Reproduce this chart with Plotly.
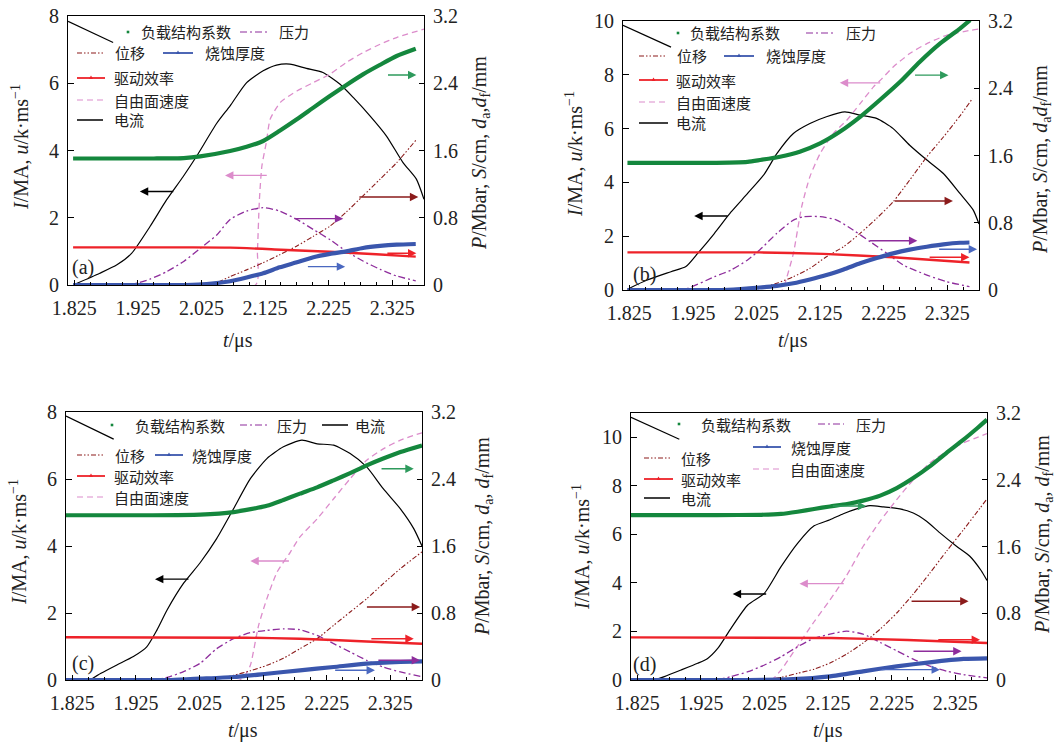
import plotly.graph_objects as go

W, H = 1062, 742
FONT = "Liberation Serif"
CJK = "Noto Sans CJK SC"

# ===================== DATA =====================
# t in microseconds; left axis: I/MA, u/k·ms^-1 ; right axis: P/Mbar, S/cm, d/mm
# ---- panel (a) ----
A_CUR_T = [1.823, 1.865, 1.892, 1.915, 1.944, 1.970, 1.996, 2.017, 2.049, 2.070, 2.096, 2.122, 2.143, 2.164, 2.190, 2.216, 2.243, 2.264, 2.290, 2.316, 2.342, 2.363, 2.375]
A_CUR = [0.0, 0.35, 0.60, 0.94, 1.74, 2.53, 3.22, 3.82, 4.81, 5.33, 6.02, 6.37, 6.54, 6.57, 6.44, 6.32, 5.97, 5.57, 5.03, 4.43, 3.64, 3.15, 2.55]
A_SEG_T = [1.815, 1.886]
A_SEG = [7.84, 7.21]
A_FSV_T = [1.823, 2.110, 2.113, 2.116, 2.120, 2.127, 2.133, 2.149, 2.175, 2.201, 2.227, 2.253, 2.279, 2.306, 2.332, 2.375]
A_FSV = [0, 0, 1.0, 2.5, 3.54, 4.24, 4.93, 5.43, 5.77, 6.02, 6.27, 6.62, 6.91, 7.16, 7.36, 7.61]
A_GRN_T = [1.823, 1.950, 1.997, 2.023, 2.070, 2.096, 2.122, 2.148, 2.175, 2.201, 2.227, 2.253, 2.279, 2.306, 2.332, 2.362]
A_GRN = [1.505, 1.505, 1.51, 1.53, 1.594, 1.645, 1.713, 1.835, 1.971, 2.11, 2.248, 2.38, 2.506, 2.62, 2.724, 2.81]
A_PRS_T = [1.905, 1.918, 1.944, 1.970, 1.997, 2.023, 2.049, 2.070, 2.096, 2.122, 2.148, 2.175, 2.201, 2.227, 2.253, 2.279, 2.306, 2.332, 2.362]
A_PRS = [0, 0.01, 0.07, 0.158, 0.28, 0.436, 0.595, 0.78, 0.88, 0.92, 0.88, 0.78, 0.66, 0.54, 0.40, 0.285, 0.186, 0.107, 0.05]
A_DSP_T = [2.030, 2.049, 2.070, 2.096, 2.122, 2.148, 2.175, 2.201, 2.227, 2.253, 2.279, 2.306, 2.332, 2.362]
A_DSP = [0, 0.03, 0.10, 0.18, 0.265, 0.36, 0.464, 0.58, 0.70, 0.87, 1.06, 1.26, 1.455, 1.72]
A_ABL_T = [1.823, 2.000, 2.020, 2.045, 2.070, 2.096, 2.122, 2.148, 2.175, 2.201, 2.227, 2.253, 2.279, 2.306, 2.332, 2.362]
A_ABL = [0, 0, 0.005, 0.02, 0.045, 0.09, 0.14, 0.21, 0.27, 0.33, 0.37, 0.40, 0.44, 0.465, 0.48, 0.488]
A_EFF_T = [1.823, 2.000, 2.070, 2.150, 2.227, 2.300, 2.362]
A_EFF = [0.448, 0.448, 0.445, 0.42, 0.395, 0.365, 0.337]

# ---- panel (b) ----
B_CUR_T = [1.822, 1.853, 1.8905, 1.914, 1.9325, 1.9586, 1.985, 2.011, 2.037, 2.057, 2.083, 2.109, 2.135, 2.164, 2.188, 2.214, 2.240, 2.266, 2.293, 2.319, 2.345, 2.366, 2.375]
B_CUR = [0.03, 0.37, 0.68, 0.87, 1.36, 2.10, 2.9, 3.59, 4.3, 5.07, 5.82, 6.19, 6.44, 6.62, 6.50, 6.38, 6.0, 5.38, 4.83, 4.33, 3.59, 2.97, 2.45]
B_SEG_T = [1.815, 1.8905]
B_SEG = [9.84, 9.03]
B_FSV_T = [1.822, 2.066, 2.070, 2.083, 2.096, 2.109, 2.125, 2.146, 2.167, 2.188, 2.209, 2.222, 2.240, 2.266, 2.293, 2.324, 2.361, 2.375]
B_FSV = [0, 0, 0.26, 1.36, 3.09, 4.21, 5.07, 5.82, 6.31, 6.93, 7.55, 7.85, 8.29, 8.79, 9.16, 9.47, 9.65, 9.70]
B_GRN_T = [1.822, 1.950, 2.011, 2.0305, 2.062, 2.093, 2.125, 2.156, 2.188, 2.219, 2.251, 2.282, 2.314, 2.345, 2.361]
B_GRN = [1.513, 1.513, 1.525, 1.546, 1.585, 1.645, 1.744, 1.882, 2.06, 2.26, 2.477, 2.715, 2.933, 3.11, 3.21]
B_PRS_T = [1.900, 1.917, 1.959, 1.985, 2.011, 2.030, 2.057, 2.083, 2.099, 2.125, 2.151, 2.177, 2.204, 2.230, 2.256, 2.293, 2.324, 2.360]
B_PRS = [0, 0.02, 0.158, 0.238, 0.357, 0.476, 0.674, 0.832, 0.872, 0.872, 0.832, 0.713, 0.574, 0.436, 0.297, 0.178, 0.099, 0.04]
B_DSP_T = [2.010, 2.030, 2.057, 2.083, 2.109, 2.135, 2.162, 2.188, 2.214, 2.240, 2.266, 2.293, 2.319, 2.345, 2.365]
B_DSP = [0, 0.02, 0.08, 0.158, 0.258, 0.396, 0.515, 0.674, 0.852, 1.05, 1.308, 1.585, 1.82, 2.07, 2.28]
B_ABL_T = [1.822, 1.980, 2.030, 2.057, 2.083, 2.109, 2.135, 2.162, 2.188, 2.214, 2.240, 2.266, 2.293, 2.319, 2.345, 2.360]
B_ABL = [0, 0.003, 0.03, 0.05, 0.08, 0.125, 0.178, 0.245, 0.317, 0.38, 0.436, 0.48, 0.515, 0.543, 0.562, 0.565]
B_EFF_T = [1.822, 2.030, 2.130, 2.240, 2.360]
B_EFF = [0.448, 0.447, 0.43, 0.389, 0.328]

# ---- panel (c) ----
C_CUR_T = [1.853, 1.870, 1.895, 1.921, 1.942, 1.958, 1.974, 2.000, 2.026, 2.052, 2.0785, 2.105, 2.131, 2.157, 2.186, 2.210, 2.236, 2.262, 2.288, 2.314, 2.341, 2.362, 2.375]
C_CUR = [0, 0.2, 0.45, 0.70, 0.99, 1.49, 2.09, 2.89, 3.5, 4.22, 5.11, 6.01, 6.61, 6.96, 7.16, 7.05, 7.01, 6.76, 6.36, 5.71, 5.11, 4.52, 4.0]
C_SEG_T = [1.815, 1.890]
C_SEG = [7.88, 7.19]
C_FSV_T = [1.815, 2.088, 2.097, 2.105, 2.118, 2.131, 2.147, 2.168, 2.183, 2.210, 2.236, 2.262, 2.288, 2.314, 2.341, 2.375]
C_FSV = [0, 0, 0.15, 0.44, 1.63, 2.43, 3.22, 3.82, 4.27, 4.81, 5.41, 6.01, 6.56, 6.90, 7.16, 7.38]
C_GRN_T = [1.815, 1.950, 2.026, 2.0785, 2.131, 2.157, 2.183, 2.210, 2.236, 2.262, 2.288, 2.314, 2.341, 2.375]
C_GRN = [1.967, 1.967, 1.975, 2.005, 2.08, 2.15, 2.225, 2.30, 2.384, 2.47, 2.563, 2.645, 2.722, 2.80]
C_PRS_T = [1.948, 1.974, 2.000, 2.026, 2.052, 2.0785, 2.105, 2.131, 2.157, 2.183, 2.210, 2.236, 2.262, 2.288, 2.314, 2.341, 2.375]
C_PRS = [0, 0.03, 0.10, 0.20, 0.374, 0.493, 0.565, 0.593, 0.61, 0.60, 0.533, 0.434, 0.334, 0.235, 0.155, 0.096, 0.04]
C_DSP_T = [2.045, 2.0785, 2.105, 2.131, 2.157, 2.183, 2.210, 2.236, 2.262, 2.288, 2.314, 2.341, 2.375]
C_DSP = [0, 0.056, 0.11, 0.175, 0.26, 0.374, 0.493, 0.653, 0.812, 0.971, 1.15, 1.33, 1.53]
C_ABL_T = [1.815, 1.980, 2.026, 2.0785, 2.131, 2.183, 2.236, 2.288, 2.341, 2.375]
C_ABL = [0, 0, 0.016, 0.036, 0.075, 0.116, 0.155, 0.195, 0.215, 0.223]
C_EFF_T = [1.815, 2.100, 2.183, 2.288, 2.375]
C_EFF = [0.51, 0.505, 0.493, 0.46, 0.433]

# ---- panel (d) ----
D_CUR_T = [1.8517, 1.8674, 1.8937, 1.9199, 1.9356, 1.9514, 1.9723, 1.9986, 2.0247, 2.051, 2.077, 2.103, 2.128, 2.149, 2.170, 2.191, 2.212, 2.238, 2.259, 2.280, 2.301, 2.327, 2.348, 2.366, 2.375]
D_CUR = [0, 0.14, 0.41, 0.69, 0.89, 1.30, 2.13, 3.09, 3.57, 4.67, 5.63, 6.35, 6.6, 6.85, 7.05, 7.18, 7.13, 7.05, 6.88, 6.54, 6.06, 5.51, 5.10, 4.5, 4.1]
D_SEG_T = [1.815, 1.891]
D_SEG = [10.82, 9.92]
D_FSV_T = [1.815, 2.035, 2.051, 2.077, 2.103, 2.128, 2.154, 2.180, 2.207, 2.233, 2.259, 2.285, 2.312, 2.338, 2.360, 2.375]
D_FSV = [0, 0, 0.41, 1.4, 2.4, 3.3, 4.3, 5.5, 6.55, 7.43, 8.25, 8.94, 9.42, 9.77, 10.0, 10.15]
D_GRN_T = [1.815, 1.950, 2.020, 2.051, 2.077, 2.103, 2.128, 2.155, 2.180, 2.207, 2.233, 2.259, 2.285, 2.311, 2.338, 2.360, 2.375]
D_GRN = [1.977, 1.977, 1.98, 1.99, 2.017, 2.05, 2.08, 2.11, 2.15, 2.21, 2.30, 2.42, 2.56, 2.72, 2.88, 3.02, 3.12]
D_PRS_T = [1.951, 1.972, 1.999, 2.025, 2.051, 2.077, 2.103, 2.128, 2.154, 2.180, 2.207, 2.233, 2.259, 2.285, 2.312, 2.338, 2.375]
D_PRS = [0, 0.04, 0.10, 0.18, 0.279, 0.399, 0.50, 0.55, 0.585, 0.55, 0.45, 0.35, 0.25, 0.165, 0.105, 0.065, 0.025]
D_DSP_T = [2.020, 2.050, 2.077, 2.103, 2.128, 2.154, 2.180, 2.207, 2.233, 2.259, 2.285, 2.312, 2.338, 2.364, 2.375]
D_DSP = [0, 0.03, 0.08, 0.13, 0.204, 0.31, 0.443, 0.61, 0.803, 1.03, 1.28, 1.55, 1.80, 2.06, 2.17]
D_ABL_T = [1.815, 2.000, 2.070, 2.128, 2.180, 2.233, 2.285, 2.338, 2.375]
D_ABL = [0, 0, 0.01, 0.044, 0.104, 0.164, 0.212, 0.252, 0.26]
D_EFF_T = [1.815, 2.130, 2.250, 2.375]
D_EFF = [0.511, 0.503, 0.48, 0.443]

# arrows: (series, tail t, head t, value)
A_ARROWS = [("green", 2.316, 2.363, 2.498), ("black", 1.983, 1.928, 2.78), ("pink", 2.130, 2.062, 3.26),
            ("purple", 2.169, 2.248, 0.789), ("darkred", 2.271, 2.366, 1.047), ("blue", 2.190, 2.251, 0.218),
            ("red", 2.315, 2.363, 0.377)]
B_ARROWS = [("green", 2.272, 2.327, 2.556), ("pink", 2.222, 2.156, 7.70), ("black", 1.982, 1.927, 2.75),
            ("darkred", 2.240, 2.334, 1.058), ("purple", 2.201, 2.278, 0.586), ("blue", 2.310, 2.372, 0.484),
            ("red", 2.295, 2.360, 0.389)]
C_ARROWS = [("green", 2.309, 2.362, 2.523), ("pink", 2.168, 2.105, 3.55), ("black", 2.010, 1.955, 3.01),
            ("darkred", 2.286, 2.372, 0.872), ("red", 2.293, 2.362, 0.493), ("purple", 2.304, 2.372, 0.235),
            ("blue", 2.236, 2.301, 0.116)]
D_ARROWS = [("green", 2.130, 2.185, 2.085), ("pink", 2.152, 2.080, 3.97), ("black", 2.030, 1.975, 3.54),
            ("darkred", 2.254, 2.346, 0.943), ("red", 2.296, 2.364, 0.483), ("purple", 2.257, 2.335, 0.344),
            ("blue", 2.207, 2.301, 0.124)]

NAMES = {"green": "负载结构系数", "purple": "压力", "darkred": "位移", "blue": "烧蚀厚度",
         "red": "驱动效率", "pink": "自由面速度", "black": "电流"}

X_TICK0, X_DTICK = 1.825, 0.1
RIGHT_TICKS = [0, 0.8, 1.6, 2.4, 3.2]
RIGHT_TICKTEXT = ["0", "0.8", "1.6", "2.4", "3.2"]

# ===================== STYLE / LAYOUT =====================
STY = {
    "green": dict(color="#14873d", width=4.2, dash="solid"),
    "blue": dict(color="#3a56ad", width=4.2, dash="solid"),
    "red": dict(color="#ee2229", width=2.4, dash="solid"),
    "pink": dict(color="#dc8ccb", width=1.3, dash="6px,4px"),
    "purple": dict(color="#8e2d9c", width=1.3, dash="7px,3px,2px,3px"),
    "darkred": dict(color="#8b1b1b", width=1.1, dash="5px,2px,1.5px,2px,1.5px,2px"),
    "black": dict(color="#000000", width=1.2, dash="solid"),
}
ARROW_COL = {"green": "#2e9a5c", "blue": "#4a68c0", "red": "#ee2229", "pink": "#dc8ccb",
             "purple": "#8e2d9c", "darkred": "#8b1b1b", "black": "#000000"}
LEFT_SERIES = {"black", "pink"}

PANELS = [
    dict(label="(a)", box=(68, 424, 16, 285), ymax=8,
         series=[("black", A_CUR_T, A_CUR), ("black", A_SEG_T, A_SEG), ("pink", A_FSV_T, A_FSV),
                 ("purple", A_PRS_T, A_PRS), ("darkred", A_DSP_T, A_DSP), ("red", A_EFF_T, A_EFF),
                 ("blue", A_ABL_T, A_ABL), ("green", A_GRN_T, A_GRN)],
         arrows=A_ARROWS, lab_xy=(83, 267),
         ltitle=(20, 147), rtitle=(480, 153), btitle=(238, 340),
         rtext="<i>P</i>/Mbar, <i>S</i>/cm, <i>d</i><sub>a</sub>,<i>d</i><sub>f</sub>/mm",
         legend=[("green", None, 128, 32, 139), ("purple", (240, 268), None, 32, 277),
                 ("darkred", (77, 103), None, 53, 113), ("blue", (163, 193), None, 53, 203),
                 ("red", (77, 105), None, 78, 112), ("pink", (77, 103), None, 100, 112),
                 ("black", (77, 103), None, 120, 112)]),
    dict(label="(b)", box=(623, 979, 21, 290), ymax=10,
         series=[("black", B_CUR_T, B_CUR), ("black", B_SEG_T, B_SEG), ("pink", B_FSV_T, B_FSV),
                 ("purple", B_PRS_T, B_PRS), ("darkred", B_DSP_T, B_DSP), ("red", B_EFF_T, B_EFF),
                 ("blue", B_ABL_T, B_ABL), ("green", B_GRN_T, B_GRN)],
         arrows=B_ARROWS, lab_xy=(644, 274),
         ltitle=(574, 154), rtitle=(1041, 160), btitle=(793, 340),
         rtext="<i>P</i>/Mbar, <i>S</i>/cm, <i>d</i><sub>a</sub><i>d</i><sub>f</sub>/mm",
         legend=[("green", None, 678, 33, 688), ("purple", (806, 833), None, 33, 844),
                 ("darkred", (639, 666), None, 56, 675), ("blue", (724, 754), None, 56, 764),
                 ("red", (639, 668), None, 80, 674), ("pink", (639, 668), None, 102, 674),
                 ("black", (639, 668), None, 123, 674)]),
    dict(label="(c)", box=(66, 422, 412, 680), ymax=8,
         series=[("black", C_CUR_T, C_CUR), ("black", C_SEG_T, C_SEG), ("pink", C_FSV_T, C_FSV),
                 ("purple", C_PRS_T, C_PRS), ("darkred", C_DSP_T, C_DSP), ("red", C_EFF_T, C_EFF),
                 ("blue", C_ABL_T, C_ABL), ("green", C_GRN_T, C_GRN)],
         arrows=C_ARROWS, lab_xy=(83, 663),
         ltitle=(18, 542), rtitle=(483, 536), btitle=(243, 730),
         rtext="<i>P</i>/Mbar, <i>S</i>/cm, <i>d</i><sub>a</sub>, <i>d</i><sub>f</sub>/mm",
         legend=[("green", None, 112, 425, 133), ("purple", (240, 267), None, 425, 275),
                 ("black", (322, 348), None, 425, 353),
                 ("darkred", (77, 103), None, 455, 113), ("blue", (155, 183), None, 455, 190),
                 ("red", (77, 105), None, 476, 112), ("pink", (77, 105), None, 497, 112)]),
    dict(label="(d)", box=(631, 987, 413, 680), ymax=11,
         series=[("black", D_CUR_T, D_CUR), ("black", D_SEG_T, D_SEG), ("pink", D_FSV_T, D_FSV),
                 ("purple", D_PRS_T, D_PRS), ("darkred", D_DSP_T, D_DSP), ("red", D_EFF_T, D_EFF),
                 ("blue", D_ABL_T, D_ABL), ("green", D_GRN_T, D_GRN)],
         arrows=D_ARROWS, lab_xy=(644, 664),
         ltitle=(581, 547), rtitle=(1043, 535), btitle=(828, 730),
         rtext="<i>P</i>/Mbar, <i>S</i>/cm, <i>d</i><sub>a</sub>, <i>d</i><sub>f</sub>/mm",
         legend=[("green", None, 679, 424, 699), ("purple", (818, 844), None, 424, 854),
                 ("blue", (753, 781), None, 447, 789), ("darkred", (644, 670), None, 458, 679),
                 ("pink", (753, 781), None, 469, 788), ("red", (644, 673), None, 479, 679),
                 ("black", (644, 670), None, 498, 679)]),
]


def px(x):
    return x / W


def py(y):
    return 1 - y / H


fig = go.Figure()
layout = dict(template="none", width=W, height=H, margin=dict(l=0, r=0, t=0, b=0, pad=0),
              paper_bgcolor="white", plot_bgcolor="white", showlegend=False,
              font=dict(family=FONT, size=19, color="#222222"))
annotations = []
shapes = []
TICKFONT = dict(family=FONT, size=20, color="#222222")
TITLEFONT = dict(family=FONT, size=20, color="#222222")

for i, P in enumerate(PANELS):
    p = i + 1
    xr = "x" if p == 1 else f"x{p}"
    L, R = 2 * p - 1, 2 * p
    yl = "y" if L == 1 else f"y{L}"
    yr = f"y{R}"
    x0, x1, y0, y1 = P["box"]
    dom_x = [px(x0), px(x1)]
    dom_y = [py(y1), py(y0)]
    layout["xaxis" if p == 1 else f"xaxis{p}"] = dict(
        domain=dom_x, anchor=yl, range=[1.815, 2.375], tickmode="linear", tick0=X_TICK0, dtick=X_DTICK,
        tickformat=".3f", ticks="inside", ticklen=5, tickcolor="black", showline=True, mirror=True,
        linecolor="black", linewidth=1.2, showgrid=False, zeroline=False, tickfont=TICKFONT,
        ticklabelstandoff=5, automargin=False,
        minor=dict(ticks="inside", ticklen=3, dtick=0.025, tick0=X_TICK0, tickcolor="black", showgrid=False))
    layout["yaxis" if L == 1 else f"yaxis{L}"] = dict(
        domain=dom_y, anchor=xr, range=[0, P["ymax"]], tickmode="linear", tick0=0, dtick=2,
        ticks="inside", ticklen=6, tickcolor="black", showline=True, linecolor="black", linewidth=1.2,
        showgrid=False, zeroline=False, tickfont=TICKFONT, ticklabelstandoff=4, automargin=False)
    layout[f"yaxis{R}"] = dict(
        domain=dom_y, anchor=xr, overlaying=yl, side="right", range=[0, 3.2], tickmode="array",
        tickvals=RIGHT_TICKS, ticktext=RIGHT_TICKTEXT, ticks="inside", ticklen=5, tickcolor="black",
        showline=True, linecolor="black", linewidth=1.2, showgrid=False, zeroline=False,
        tickfont=TICKFONT, ticklabelstandoff=4, automargin=False)

    for key, t, v in P["series"]:
        s = STY[key]
        fig.add_trace(go.Scatter(
            x=t, y=v, mode="lines", xaxis=xr, yaxis=yl if key in LEFT_SERIES else yr,
            line=dict(color=s["color"], width=s["width"], dash=s["dash"], shape="spline", smoothing=0.6),
            name=NAMES[key], hoverinfo="skip"))

    for key, t0, t1, val in P["arrows"]:
        yy = yl if key in LEFT_SERIES else yr
        annotations.append(dict(x=t1, y=val, ax=t0, ay=val, xref=xr, yref=yy, axref=xr, ayref=yy,
                                text="", showarrow=True, arrowhead=2, arrowsize=1.2, arrowwidth=1.4,
                                arrowcolor=ARROW_COL[key], standoff=0, startstandoff=0))

    # legend (drawn manually to match the arrangement)
    for key, seg, dotx, ly, tx in P["legend"]:
        s = STY[key]
        if key == "green":
            shapes.append(dict(type="rect", xref="paper", yref="paper", x0=px(dotx - 1.3), x1=px(dotx + 1.3),
                               y0=py(ly + 1.3), y1=py(ly - 1.3), fillcolor=s["color"], line=dict(width=0)))
        else:
            lw = {"red": 1.8, "blue": 1.8, "black": 1.5}.get(key, 1.2)
            shapes.append(dict(type="line", xref="paper", yref="paper", x0=px(seg[0]), x1=px(seg[1]),
                               y0=py(ly), y1=py(ly), line=dict(color=s["color"], width=lw, dash=s["dash"])))
            if key in ("blue", "red"):
                mx = (seg[0] + seg[1]) / 2
                shapes.append(dict(type="path", xref="paper", yref="paper",
                                   path=f"M {px(mx-2)},{py(ly+1)} L {px(mx+2)},{py(ly+1)} L {px(mx)},{py(ly-2.5)} Z",
                                   fillcolor=s["color"], line=dict(width=0)))
        annotations.append(dict(x=px(tx), y=py(ly), xref="paper", yref="paper", text=NAMES[key],
                                showarrow=False, xanchor="left", yanchor="middle",
                                font=dict(family=CJK, size=15, color="#222222")))

    lx, lyy = P["lab_xy"]
    annotations.append(dict(x=px(lx), y=py(lyy), xref="paper", yref="paper", text=P["label"],
                            showarrow=False, xanchor="center", yanchor="middle",
                            font=dict(family=FONT, size=20, color="#222222")))
    # axis titles
    tx_, ty_ = P["ltitle"]
    annotations.append(dict(x=px(tx_), y=py(ty_), xref="paper", yref="paper",
                            text="<i>I</i>/MA, <i>u</i>/k·ms<sup>−1</sup>", textangle=-90,
                            showarrow=False, xanchor="center", yanchor="middle", font=TITLEFONT))
    tx_, ty_ = P["rtitle"]
    annotations.append(dict(x=px(tx_), y=py(ty_), xref="paper", yref="paper", text=P["rtext"], textangle=-90,
                            showarrow=False, xanchor="center", yanchor="middle", font=TITLEFONT))
    tx_, ty_ = P["btitle"]
    annotations.append(dict(x=px(tx_), y=py(ty_), xref="paper", yref="paper", text="<i>t</i>/μs",
                            showarrow=False, xanchor="center", yanchor="middle", font=TITLEFONT))

layout["annotations"] = annotations
layout["shapes"] = shapes
fig.update_layout(**layout)
fig.write_html("out.html", config={"displayModeBar": False},
               post_script="document.body.style.margin='0px';document.body.style.padding='0px';")
